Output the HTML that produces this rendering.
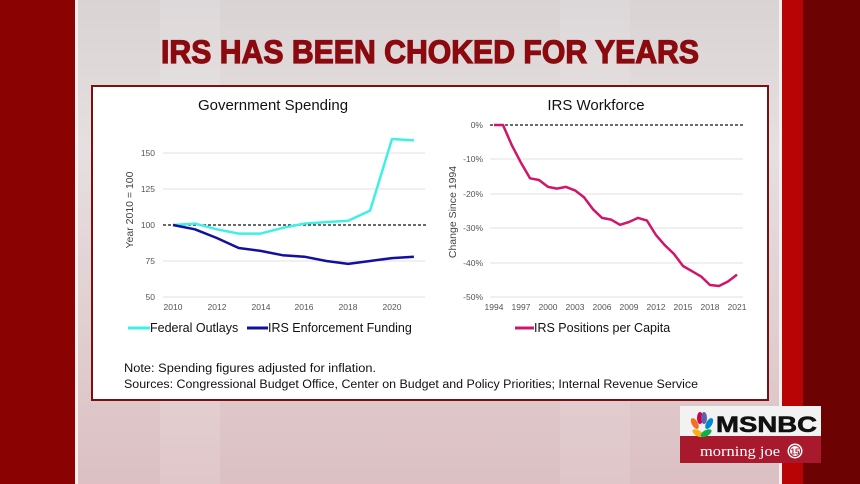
<!DOCTYPE html>
<html><head><meta charset="utf-8"><style>
html,body{margin:0;padding:0;width:860px;height:484px;overflow:hidden}
svg{display:block}
text{font-family:"Liberation Sans",sans-serif}
</style></head><body>
<svg width="860" height="484" viewBox="0 0 860 484" xmlns="http://www.w3.org/2000/svg">
<defs>
<linearGradient id="bg" x1="0" y1="0" x2="0" y2="1">
<stop offset="0" stop-color="#d9d3d4"/><stop offset="0.3" stop-color="#e6dfe0"/><stop offset="1" stop-color="#dcc0c3"/>
</linearGradient>
</defs>
<rect x="0" y="0" width="860" height="484" fill="url(#bg)"/>
<rect x="0" y="0" width="75" height="484" fill="#8a0202"/>
<rect x="75" y="0" width="3" height="484" fill="#f4f0f0"/>
<rect x="779" y="0" width="3" height="484" fill="#f4f0f0"/>
<rect x="782" y="0" width="21" height="484" fill="#b80404"/>
<rect x="803" y="0" width="57" height="484" fill="#6c0202"/>
<rect x="160" y="0" width="60" height="484" fill="#fff" opacity="0.12"/>
<rect x="560" y="0" width="70" height="484" fill="#fff" opacity="0.1"/>

<text x="430" y="63" text-anchor="middle" font-size="32" font-weight="bold" fill="#8a0a0f" stroke="#8a0a0f" stroke-width="1.2" textLength="538" lengthAdjust="spacingAndGlyphs">IRS HAS BEEN CHOKED FOR YEARS</text>

<rect x="92" y="86" width="676" height="314" fill="#fff" stroke="#7a1010" stroke-width="2"/>

<!-- Left chart -->
<text x="273" y="110" text-anchor="middle" font-size="15" fill="#111">Government Spending</text>
<g stroke="#e2e2e2" stroke-width="1">
<line x1="163" y1="153" x2="425" y2="153"/><line x1="163" y1="189" x2="425" y2="189"/>
<line x1="163" y1="261" x2="425" y2="261"/><line x1="163" y1="297" x2="425" y2="297"/>
</g>
<line x1="163" y1="225" x2="426" y2="225" stroke="#111" stroke-width="1.2" stroke-dasharray="3,2"/>
<g font-size="8.5" fill="#555" text-anchor="end">
<text x="155" y="156">150</text><text x="155" y="192">125</text><text x="155" y="228">100</text>
<text x="155" y="264">75</text><text x="155" y="300">50</text>
</g>
<g font-size="8.5" fill="#555" text-anchor="middle">
<text x="173" y="310">2010</text><text x="217" y="310">2012</text><text x="261" y="310">2014</text>
<text x="304" y="310">2016</text><text x="348" y="310">2018</text><text x="392" y="310">2020</text>
</g>
<text transform="translate(133,210) rotate(-90)" text-anchor="middle" font-size="10.5" fill="#444">Year 2010 = 100</text>
<polyline fill="none" stroke="#3ff0e6" stroke-width="2.5" stroke-linejoin="round" points="173,225 194.9,223.6 216.8,229.3 238.7,233.6 260.6,233.6 282.5,227.9 304.4,223.6 326.3,222.1 348.2,220.7 370.1,210.6 392,139 413.9,140.4"/>
<polyline fill="none" stroke="#12109e" stroke-width="2.5" stroke-linejoin="round" points="173,225 194.9,229.3 216.8,238 238.7,248 260.6,250.9 282.5,255.2 304.4,256.7 326.3,261 348.2,263.9 370.1,261 392,258.1 413.9,256.7"/>
<line x1="128" y1="328" x2="150" y2="328" stroke="#3ff0e6" stroke-width="3"/>
<text x="150" y="332" font-size="12.5" fill="#111">Federal Outlays</text>
<line x1="247" y1="328" x2="268" y2="328" stroke="#12109e" stroke-width="3"/>
<text x="268" y="332" font-size="12.5" fill="#111">IRS Enforcement Funding</text>

<!-- Right chart -->
<text x="596" y="110" text-anchor="middle" font-size="15" fill="#111">IRS Workforce</text>
<g stroke="#e2e2e2" stroke-width="1">
<line x1="490" y1="159" x2="743" y2="159"/><line x1="490" y1="194" x2="743" y2="194"/>
<line x1="490" y1="228" x2="743" y2="228"/><line x1="490" y1="263" x2="743" y2="263"/>
<line x1="490" y1="297" x2="743" y2="297"/>
</g>
<line x1="490" y1="125" x2="743" y2="125" stroke="#111" stroke-width="1.2" stroke-dasharray="3,2"/>
<g font-size="8.5" fill="#555" text-anchor="end">
<text x="483" y="128">0%</text><text x="483" y="162">-10%</text><text x="483" y="197">-20%</text>
<text x="483" y="231">-30%</text><text x="483" y="266">-40%</text><text x="483" y="300">-50%</text>
</g>
<g font-size="8.5" fill="#555" text-anchor="middle">
<text x="494" y="310">1994</text><text x="521" y="310">1997</text><text x="548" y="310">2000</text>
<text x="575" y="310">2003</text><text x="602" y="310">2006</text><text x="629" y="310">2009</text>
<text x="656" y="310">2012</text><text x="683" y="310">2015</text><text x="710" y="310">2018</text>
<text x="737" y="310">2021</text>
</g>
<text transform="translate(456,212) rotate(-90)" text-anchor="middle" font-size="10.5" fill="#444">Change Since 1994</text>
<polyline fill="none" stroke="#d0156a" stroke-width="2.5" stroke-linejoin="round" points="494,125 503,125 512,145.6 521,162.8 530,178.3 539,180 548,186.9 557,188.6 566,186.9 575,190.4 584,197.2 593,209.3 602,217.9 611,219.6 620,224.8 629,222 638,217.9 647,220.6 656,235.1 665,245.4 674,254 683,266 692,271.2 701,276.4 710,285 719,286 728,281.5 737,274.6"/>
<line x1="515" y1="328" x2="534" y2="328" stroke="#d0156a" stroke-width="3"/>
<text x="534" y="332" font-size="12.5" fill="#111">IRS Positions per Capita</text>

<text x="124" y="372" font-size="11.5" fill="#111" textLength="252" lengthAdjust="spacingAndGlyphs">Note: Spending figures adjusted for inflation.</text>
<text x="124" y="388" font-size="11.5" fill="#111" textLength="574" lengthAdjust="spacingAndGlyphs">Sources: Congressional Budget Office, Center on Budget and Policy Priorities; Internal Revenue Service</text>

<!-- Logo -->
<rect x="680" y="406" width="141" height="30" fill="#f2f2f2"/>
<rect x="680" y="436" width="141" height="27" fill="#a8192e"/>
<g transform="translate(702,424)">
<ellipse cx="-10" cy="1" rx="3" ry="6" transform="rotate(-60)" fill="#f7b21a"/>
<ellipse cx="-6" cy="-4" rx="3" ry="6" transform="rotate(-30)" fill="#f37021"/>
<ellipse cx="-2" cy="-6" rx="3" ry="6" fill="#cc004c"/>
<ellipse cx="2" cy="-6" rx="3" ry="6" fill="#6460aa"/>
<ellipse cx="6" cy="-4" rx="3" ry="6" transform="rotate(30)" fill="#0089d0"/>
<ellipse cx="10" cy="1" rx="3" ry="6" transform="rotate(60)" fill="#0db14b"/>
</g>
<text x="716" y="432" font-size="22" font-weight="bold" fill="#111" stroke="#111" stroke-width="0.6" textLength="101" lengthAdjust="spacingAndGlyphs">MSNBC</text>
<text x="700" y="456" font-size="15" fill="#fff" style="font-family:'Liberation Serif',serif" textLength="80" lengthAdjust="spacingAndGlyphs">morning joe</text>
<circle cx="795" cy="451" r="7.5" fill="#fff"/>
<circle cx="795" cy="451" r="5.5" fill="none" stroke="#a8192e" stroke-width="1"/>
<text x="795" y="454.5" font-size="8" font-weight="bold" fill="#a8192e" text-anchor="middle">15</text>
</svg>
</body></html>
